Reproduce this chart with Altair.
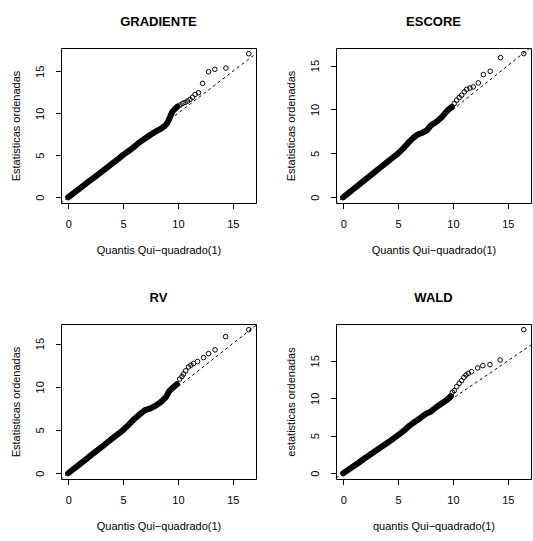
import altair as alt
import pandas as pd

FONT = "Liberation Sans"
W, H = 195, 155

# Shared theoretical-quantile axis and the y = x reference line
X_DOMAIN = [-0.658, 17.11]
TICKS = [0, 5, 10, 15]
REF_LINE = [-2.0, 25.0]

# GRADIENTE: dense part of the ordered statistics, then the sparse upper tail
grad_band_q = [0.0, 0.5, 1.0, 1.5, 2.0, 2.5, 3.0, 3.5, 4.0, 4.5, 5.0, 5.5, 6.0, 6.5,
               7.0, 7.5, 8.0, 8.5, 8.8, 9.0, 9.2, 9.35, 9.5, 9.7, 9.95]
grad_band_s = [0.0, 0.5, 1.0, 1.5, 2.0, 2.5, 3.0, 3.5, 4.0, 4.5, 5.05, 5.5, 6.0, 6.55,
               7.0, 7.45, 7.85, 8.2, 8.5, 8.8, 9.3, 9.8, 10.2, 10.5, 10.8]
grad_tail_q = [10.19, 10.44, 10.65, 10.87, 11.1, 11.32, 11.56, 11.87, 12.24, 12.79,
               13.36, 14.37, 16.45]
grad_tail_s = [10.98, 11.18, 11.3, 11.46, 11.66, 11.9, 12.25, 12.45, 13.57, 14.95,
               15.24, 15.39, 17.1]

# ESCORE
esc_band_q = [0.0, 0.5, 1.0, 1.5, 2.0, 2.5, 3.0, 3.5, 4.0, 4.5, 5.0, 5.5, 6.0, 6.5,
              6.8, 7.2, 7.6, 8.0, 8.5, 9.0, 9.5, 9.9]
esc_band_s = [0.0, 0.5, 1.0, 1.5, 2.0, 2.5, 3.0, 3.5, 4.0, 4.5, 5.0, 5.6, 6.3, 6.9,
              7.15, 7.35, 7.6, 8.2, 8.6, 9.15, 9.9, 10.3]
esc_tail_q = [10.12, 10.34, 10.57, 10.79, 11.03, 11.25, 11.55, 11.85, 12.31, 12.77,
              13.39, 14.34, 16.45]
esc_tail_s = [10.68, 11.06, 11.36, 11.62, 12.0, 12.3, 12.45, 12.57, 13.02, 13.97,
              14.35, 15.9, 16.36]

# RV
rv_band_q = [0.0, 0.5, 1.0, 1.5, 2.0, 2.5, 3.0, 3.5, 4.0, 4.5, 5.0, 5.5, 6.0, 6.5,
             7.0, 7.5, 8.0, 8.5, 8.9, 9.2, 9.5, 9.9]
rv_band_s = [0.0, 0.5, 1.0, 1.5, 2.0, 2.5, 3.0, 3.5, 4.0, 4.5, 5.0, 5.6, 6.25, 6.8,
             7.3, 7.5, 7.85, 8.3, 8.8, 9.5, 9.85, 10.3]
rv_tail_q = [10.15, 10.36, 10.5, 10.7, 10.96, 11.18, 11.42, 11.78, 12.33, 12.79,
             13.38, 14.34, 16.45]
rv_tail_s = [10.89, 11.19, 11.47, 11.85, 12.3, 12.5, 12.69, 12.92, 13.38, 13.84,
             14.27, 15.8, 16.6]

# WALD
wald_band_q = [0.0, 0.5, 1.0, 1.5, 2.0, 2.5, 3.0, 3.5, 4.0, 4.5, 5.0, 5.5, 6.0, 6.5,
               7.0, 7.5, 7.7, 8.0, 8.5, 9.0, 9.5, 9.8]
wald_band_s = [0.0, 0.5, 1.0, 1.5, 2.05, 2.55, 3.05, 3.55, 4.05, 4.55, 5.1, 5.65, 6.3,
               6.85, 7.35, 7.9, 8.05, 8.25, 8.85, 9.35, 9.85, 10.3]
wald_tail_q = [9.94, 10.12, 10.34, 10.57, 10.79, 11.0, 11.19, 11.4, 11.7, 12.25,
               12.72, 13.37, 14.3, 16.45]
wald_tail_s = [10.8, 11.03, 11.56, 12.0, 12.36, 12.8, 13.12, 13.33, 13.56, 14.05,
               14.36, 14.49, 15.12, 19.16]


def panel(name, band_q, band_s, tail_q, tail_s, y_domain, y_title, x_title):
    band = pd.DataFrame({"q": band_q, "s": band_s})
    pts = pd.DataFrame({"q": band_q + tail_q, "s": band_s + tail_s})
    ref = pd.DataFrame({"q": REF_LINE, "s": REF_LINE})

    x = alt.X("q:Q", scale=alt.Scale(domain=X_DOMAIN, nice=False, zero=False),
              axis=alt.Axis(values=TICKS, title=x_title))
    y = alt.Y("s:Q", scale=alt.Scale(domain=y_domain, nice=False, zero=False),
              axis=alt.Axis(values=TICKS, title=y_title))

    # dashed y = x reference
    diag = alt.Chart(ref).mark_line(
        color="black", strokeWidth=1, strokeDash=[3, 3], clip=True
    ).encode(x=x, y=y)
    # overplotted circles in the bulk of the sample merge into a solid band
    bulk = alt.Chart(band).mark_line(
        color="black", strokeWidth=6, strokeCap="round", strokeJoin="round"
    ).encode(x=x, y=y)
    circles = alt.Chart(pts).mark_point(
        shape="circle", size=21, filled=False, color="black", strokeWidth=1, opacity=1
    ).encode(x=x, y=y)

    return alt.layer(diag, bulk, circles).properties(
        width=W, height=H,
        title=alt.TitleParams(
            name, font=FONT, fontSize=13, fontWeight="bold", color="black",
            anchor="middle", baseline="alphabetic", offset=9, frame="group",
        ),
    )


p1 = panel("GRADIENTE", grad_band_q, grad_band_s, grad_tail_q, grad_tail_s,
           [-0.684, 17.78], "Estatisticas ordenadas", "Quantis Qui−quadrado(1)")
p2 = panel("ESCORE", esc_band_q, esc_band_s, esc_tail_q, esc_tail_s,
           [-0.654, 17.0], "Estatisticas ordenadas", "Quantis Qui−quadrado(1)")
p3 = panel("RV", rv_band_q, rv_band_s, rv_tail_q, rv_tail_s,
           [-0.664, 17.26], "Estatisticas ordenadas", "Quantis Qui−quadrado(1)")
p4 = panel("WALD", wald_band_q, wald_band_s, wald_tail_q, wald_tail_s,
           [-0.766, 19.92], "estatisticas ordenadas", "quantis Qui−quadrado(1)")

chart = alt.concat(
    p1, p2, p3, p4, columns=2, spacing={"row": 121, "column": 80}, bounds="flush"
).properties(
    padding={"left": 9, "top": 15, "right": 0, "bottom": 0},
    background="white",
).configure_view(
    stroke="black", strokeWidth=1
).configure_axis(
    grid=False, domain=False, ticks=True, tickSize=5.5, tickColor="black", tickWidth=1,
    labelFont=FONT, labelFontSize=11, labelColor="black",
    titleFont=FONT, titleFontSize=11, titleColor="black", titleFontWeight="normal",
).configure_axisX(
    labelBaseline="alphabetic", labelPadding=18.5, labelAlign="center",
    titleX=W / 2, titleY=50, titleAlign="center", titleBaseline="alphabetic",
).configure_axisY(
    labelAngle=270, labelAlign="center", labelBaseline="alphabetic", labelPadding=11.9,
    titleAngle=270, titleX=-41.7, titleY=H / 2, titleAlign="center",
    titleBaseline="alphabetic",
)

chart.save("out.html", embed_options={"renderer": "svg", "actions": False})
